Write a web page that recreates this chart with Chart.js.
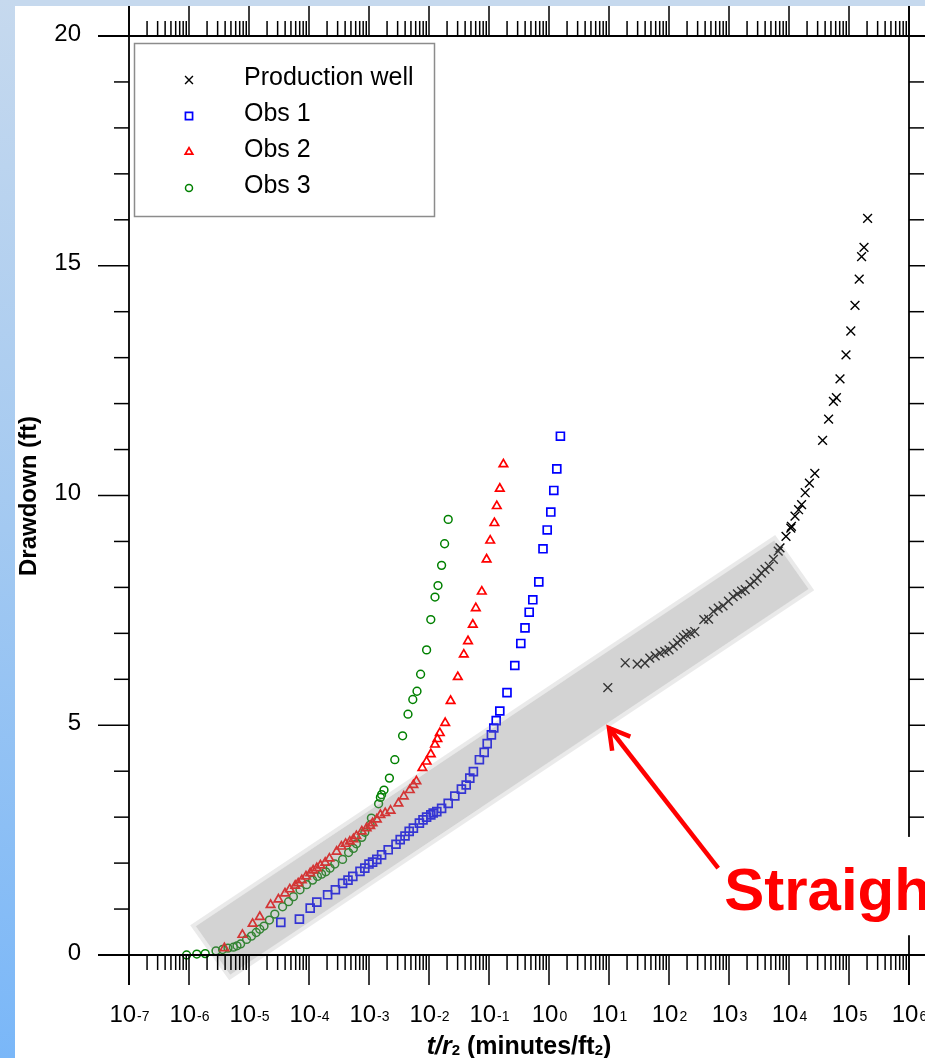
<!DOCTYPE html>
<html><head><meta charset="utf-8">
<script src="https://cdn.jsdelivr.net/npm/chart.js@4/dist/chart.umd.min.js"></script>
<style>html,body{margin:0;padding:0;overflow:hidden;background:#fff}canvas{display:block}</style>
</head><body>
<canvas id="c" width="925" height="1058"></canvas>
<script>
// ---- data (x given as log10 of t/r², y = drawdown ft) ----
const seriesNames = ['Production well', 'Obs 1', 'Obs 2', 'Obs 3'];

const prodLogT = [0.98,1.27,1.47,1.60,1.68,1.77,1.85,1.93,2.00,2.07,2.14,2.19,2.24,2.29,2.36,2.43,2.58,2.66,2.74,2.82,2.90,2.99,3.07,3.14,3.21,3.27,3.35,3.42,3.47,3.54,3.60,3.67,3.74,3.82,3.85,3.95,4.03,4.04,4.10,4.16,4.21,4.27,4.34,4.43,4.56,4.66,4.74,4.79,4.85,4.95,5.03,5.10,5.17,5.21,5.25,5.31];
const prodS    = [5.82,6.36,6.33,6.35,6.46,6.51,6.57,6.61,6.64,6.72,6.79,6.86,6.92,6.97,7.00,7.04,7.30,7.31,7.48,7.55,7.60,7.70,7.80,7.86,7.92,7.95,8.06,8.13,8.20,8.31,8.39,8.46,8.61,8.79,8.86,9.11,9.29,9.33,9.55,9.69,9.80,10.06,10.27,10.48,11.20,11.66,12.05,12.13,12.54,13.06,13.58,14.14,14.71,15.20,15.40,16.03];

const obs1LogT = [-4.47,-4.16,-3.98,-3.87,-3.69,-3.56,-3.44,-3.35,-3.27,-3.15,-3.07,-3.00,-2.94,-2.87,-2.79,-2.68,-2.55,-2.48,-2.40,-2.33,-2.26,-2.16,-2.10,-2.04,-1.97,-1.93,-1.87,-1.79,-1.68,-1.57,-1.46,-1.38,-1.32,-1.26,-1.16,-1.08,-1.03,-0.96,-0.92,-0.88,-0.82,-0.70,-0.57,-0.47,-0.40,-0.33,-0.27,-0.17,-0.10,-0.03,0.03,0.08,0.13,0.19];
const obs1S    = [0.71,0.78,1.02,1.15,1.31,1.42,1.56,1.63,1.71,1.82,1.89,1.98,2.02,2.08,2.18,2.29,2.41,2.51,2.59,2.69,2.76,2.87,2.94,3.00,3.05,3.09,3.12,3.19,3.30,3.46,3.61,3.70,3.85,3.99,4.25,4.41,4.60,4.79,4.94,5.10,5.31,5.71,6.30,6.78,7.12,7.46,7.73,8.12,8.84,9.25,9.64,10.11,10.58,11.29];

const obs2LogT = [-5.41,-5.11,-4.94,-4.82,-4.64,-4.51,-4.40,-4.32,-4.23,-4.18,-4.12,-4.05,-3.98,-3.93,-3.87,-3.81,-3.73,-3.66,-3.54,-3.46,-3.39,-3.32,-3.26,-3.21,-3.12,-3.04,-2.98,-2.94,-2.87,-2.81,-2.73,-2.64,-2.51,-2.42,-2.32,-2.26,-2.21,-2.11,-2.04,-1.97,-1.90,-1.86,-1.82,-1.73,-1.64,-1.52,-1.42,-1.35,-1.27,-1.22,-1.12,-1.04,-0.98,-0.91,-0.87,-0.82,-0.76];
const obs2S    = [0.15,0.44,0.68,0.83,1.09,1.21,1.34,1.43,1.51,1.56,1.63,1.71,1.78,1.84,1.89,1.95,2.01,2.10,2.25,2.36,2.42,2.47,2.52,2.59,2.69,2.76,2.81,2.87,2.95,3.05,3.09,3.14,3.30,3.45,3.59,3.70,3.78,4.07,4.21,4.37,4.58,4.70,4.83,5.05,5.53,6.05,6.54,6.83,7.19,7.55,7.91,8.61,9.02,9.40,9.77,10.15,10.68];

const obs3LogT = [-6.04,-5.87,-5.73,-5.55,-5.44,-5.35,-5.26,-5.20,-5.14,-5.04,-4.96,-4.88,-4.82,-4.75,-4.66,-4.57,-4.44,-4.34,-4.26,-4.15,-4.04,-3.94,-3.86,-3.79,-3.72,-3.65,-3.57,-3.44,-3.34,-3.26,-3.21,-3.12,-3.07,-2.98,-2.96,-2.84,-2.81,-2.79,-2.75,-2.66,-2.57,-2.44,-2.35,-2.27,-2.20,-2.14,-2.04,-1.97,-1.90,-1.85,-1.79,-1.74,-1.68];
const obs3S    = [0.00,0.02,0.03,0.09,0.12,0.15,0.17,0.20,0.24,0.34,0.41,0.49,0.56,0.63,0.76,0.89,1.05,1.16,1.27,1.42,1.53,1.63,1.71,1.76,1.81,1.89,1.98,2.08,2.23,2.32,2.42,2.56,2.67,2.83,2.98,3.29,3.43,3.49,3.59,3.85,4.25,4.77,5.24,5.56,5.74,6.11,6.64,7.30,7.79,8.04,8.48,8.95,9.48];

const xTickExponents = [-7,-6,-5,-4,-3,-2,-1,0,1,2,3,4,5,6];
const yTickLabels = [0, 5, 10, 15, 20];
const yMinorTicks = [0,1,2,3,4,5,6,7,8,9,10,11,12,13,14,15,16,17,18,19,20];

const yTitle = 'Drawdown (ft)';
const annotationText = 'Straight';

// ---- styling / annotation geometry (data space) ----
const FONT = '"Liberation Sans", Arial, sans-serif';
const band = [[-5.98,0.65],[3.77,9.14],[4.42,7.94],[-5.33,-0.55]]; // [log10 x, y]
const arrowTail = [2.82, 1.89], arrowTip = [1.0, 4.94];
const labelAnchor = [2.92, 0.98];
const labelBox = [2.78, 2.57, 0.43]; // left log x, top y, bottom y

const toPts = (lx, ly) => lx.slice(0, Math.min(lx.length, ly.length)).map((v, i) => ({x: Math.pow(10, v), y: ly[i]}));

const styles = [
  {pointStyle:'crossRot', radius:6.2, borderWidth:1.4, color:'#000000'},
  {pointStyle:'rect', radius:5.6, borderWidth:1.7, color:'#0000ff'},
  {pointStyle:'triangle', radius:4.9, borderWidth:1.7, color:'#ff0000'},
  {pointStyle:'circle', radius:3.9, borderWidth:1.5, color:'#008000'}
];
const seriesData = [toPts(prodLogT, prodS), toPts(obs1LogT, obs1S), toPts(obs2LogT, obs2S), toPts(obs3LogT, obs3S)];

const datasets = seriesNames.map((n, i) => ({
  label: n, data: seriesData[i], showLine: false, clip: false,
  pointStyle: styles[i].pointStyle, pointRadius: styles[i].radius, pointHoverRadius: styles[i].radius,
  pointBorderWidth: styles[i].borderWidth, borderColor: styles[i].color, backgroundColor: 'rgba(0,0,0,0)',
  pointBackgroundColor: 'rgba(0,0,0,0)', pointBorderColor: styles[i].color
}));

function line(ctx, x1, y1, x2, y2){ ctx.beginPath(); ctx.moveTo(x1, y1); ctx.lineTo(x2, y2); ctx.stroke(); }

const deco = {
  id: 'deco',
  beforeDraw(chart){
    const ctx = chart.ctx, W = chart.width, H = chart.height;
    ctx.save();
    ctx.fillStyle = '#ffffff'; ctx.fillRect(0, 0, W, H);
    ctx.fillStyle = '#c6d9ee'; ctx.fillRect(0, 0, W, 6);
    const g = ctx.createLinearGradient(0, 0, 0, H);
    g.addColorStop(0, '#c6d9ee'); g.addColorStop(0.5, '#a3c9f1'); g.addColorStop(1, '#7ab7f8');
    ctx.fillStyle = g; ctx.fillRect(0, 0, 15, H);
    ctx.restore();
  },
  afterDatasetsDraw(chart){
    const ctx = chart.ctx, xs = chart.scales.x, ys = chart.scales.y;
    const px = lv => xs.getPixelForValue(Math.pow(10, lv));
    const py = v => ys.getPixelForValue(v);
    const L = xs.left, R = xs.right, T = ys.top, B = ys.bottom;
    ctx.save();

    // gray band over the straight-line portion
    const P = band.map(c => [px(c[0]), py(c[1])]);
    const norm = (a, b) => { const dx = b[0]-a[0], dy = b[1]-a[1], l = Math.hypot(dx, dy); return [dx/l, dy/l]; };
    const u = norm(P[0], P[1]), v = norm(P[0], P[3]), d = 4;
    const I = [
      [P[0][0]+d*u[0]+d*v[0], P[0][1]+d*u[1]+d*v[1]],
      [P[1][0]-d*u[0]+d*v[0], P[1][1]-d*u[1]+d*v[1]],
      [P[2][0]-d*u[0]-d*v[0], P[2][1]-d*u[1]-d*v[1]],
      [P[3][0]+d*u[0]-d*v[0], P[3][1]+d*u[1]-d*v[1]]
    ];
    ctx.beginPath();
    P.forEach((p, i) => i ? ctx.lineTo(p[0], p[1]) : ctx.moveTo(p[0], p[1])); ctx.closePath();
    [I[0], I[3], I[2], I[1]].forEach((p, i) => i ? ctx.lineTo(p[0], p[1]) : ctx.moveTo(p[0], p[1])); ctx.closePath();
    ctx.fillStyle = 'rgba(150,150,150,0.2)'; ctx.fill('evenodd');
    ctx.beginPath();
    I.forEach((p, i) => i ? ctx.lineTo(p[0], p[1]) : ctx.moveTo(p[0], p[1])); ctx.closePath();
    ctx.fillStyle = 'rgba(140,140,140,0.38)'; ctx.fill();

    // frame and ticks
    ctx.strokeStyle = '#000'; ctx.lineWidth = 1.8; ctx.lineCap = 'butt';
    line(ctx, L-31, T, chart.width, T);
    line(ctx, L-31, B, chart.width, B);
    line(ctx, L, 6, L, B+30);
    line(ctx, R, 6, R, B+30);
    ctx.lineWidth = 1.5;
    xTickExponents.forEach((e, k) => {
      const x = px(e);
      line(ctx, x, B, x, B+30); line(ctx, x, T, x, T-30);
      if (k < xTickExponents.length - 1) {
        for (let m = 2; m <= 9; m++) {
          const xm = xs.getPixelForValue(m * Math.pow(10, e));
          line(ctx, xm, B, xm, B+15); line(ctx, xm, T, xm, T-15);
        }
      }
    });
    yMinorTicks.forEach(v => {
      const y = py(v), len = yTickLabels.includes(v) ? 31 : 15;
      line(ctx, L-len, y, L, y); line(ctx, R, y, R+len, y);
    });

    // x tick labels 10 with exponent
    ctx.fillStyle = '#000'; ctx.textBaseline = 'alphabetic'; ctx.textAlign = 'left';
    xTickExponents.forEach(e => {
      const x = px(e);
      ctx.font = '24px ' + FONT; const w1 = ctx.measureText('10').width;
      ctx.font = '14px ' + FONT; const es = String(e); const w2 = ctx.measureText(es).width;
      const x0 = x - (w1 + w2) / 2;
      ctx.font = '24px ' + FONT; ctx.fillText('10', x0, 1022);
      ctx.font = '14px ' + FONT; ctx.fillText(es, x0 + w1 + 1, 1021);
    });
    // y tick labels
    ctx.font = '24px ' + FONT; ctx.textAlign = 'right'; ctx.textBaseline = 'middle';
    yTickLabels.forEach(v => ctx.fillText(String(v), 81, py(v) - 2));

    // x axis title: t/r2 (minutes/ft2)
    const parts = [
      {t:'t/r', f:'italic bold 25px '+FONT, dy:0},
      {t:'2', f:'bold 15px '+FONT, dy:1},
      {t:' (minutes/ft', f:'bold 25px '+FONT, dy:0},
      {t:'2', f:'bold 15px '+FONT, dy:1},
      {t:')', f:'bold 25px '+FONT, dy:0}
    ];
    ctx.textAlign = 'left'; ctx.textBaseline = 'alphabetic';
    let tw = 0; parts.forEach(p => { ctx.font = p.f; p.w = ctx.measureText(p.t).width; tw += p.w; });
    let cx = 519 - tw / 2;
    parts.forEach(p => { ctx.font = p.f; ctx.fillText(p.t, cx, 1054 + p.dy); cx += p.w; });

    // y axis title
    ctx.save(); ctx.translate(36, 496); ctx.rotate(-Math.PI/2);
    ctx.font = 'bold 24px ' + FONT; ctx.textAlign = 'center'; ctx.textBaseline = 'alphabetic';
    ctx.fillText(yTitle, 0, 0); ctx.restore();

    // legend
    ctx.fillStyle = '#fff'; ctx.fillRect(134, 43, 301, 174);
    ctx.strokeStyle = '#8c8c8c'; ctx.lineWidth = 1.5; ctx.strokeRect(134.5, 43.5, 300, 173);
    const rows = [78, 114, 150, 186];
    seriesNames.forEach((n, i) => {
      ctx.save();
      ctx.strokeStyle = styles[i].color; ctx.fillStyle = 'rgba(0,0,0,0)'; ctx.lineWidth = styles[i].borderWidth;
      Chart.helpers.drawPoint(ctx, {pointStyle: styles[i].pointStyle, radius: styles[i].radius * 0.9, rotation: 0, borderWidth: styles[i].borderWidth}, 189, rows[i] + 2);
      ctx.restore();
      ctx.fillStyle = '#000'; ctx.font = '25px ' + FONT; ctx.textAlign = 'left'; ctx.textBaseline = 'middle';
      ctx.fillText(n, 244, rows[i]);
    });

    // white label box, arrow and text
    const bx = px(labelBox[0]), by1 = py(labelBox[1]), by2 = py(labelBox[2]);
    ctx.fillStyle = '#fff'; ctx.fillRect(bx, by1, chart.width - bx, by2 - by1);
    const ax1 = px(arrowTail[0]), ay1 = py(arrowTail[1]), ax2 = px(arrowTip[0]), ay2 = py(arrowTip[1]);
    ctx.strokeStyle = '#ff0000'; ctx.lineWidth = 4.5; ctx.lineCap = 'butt'; ctx.lineJoin = 'miter';
    line(ctx, ax1, ay1, ax2, ay2);
    const ang = Math.atan2(ay1 - ay2, ax1 - ax2), hl = 23, ha = Math.PI / 6;
    ctx.beginPath();
    ctx.moveTo(ax2 + hl*Math.cos(ang + ha), ay2 + hl*Math.sin(ang + ha));
    ctx.lineTo(ax2, ay2);
    ctx.lineTo(ax2 + hl*Math.cos(ang - ha), ay2 + hl*Math.sin(ang - ha));
    ctx.stroke();
    ctx.fillStyle = '#ff0000'; ctx.font = 'bold 60px ' + FONT; ctx.textAlign = 'left'; ctx.textBaseline = 'alphabetic';
    ctx.fillText(annotationText, px(labelAnchor[0]), py(labelAnchor[1]));
    ctx.restore();
  }
};

new Chart(document.getElementById('c'), {
  type: 'scatter',
  data: { datasets },
  options: {
    responsive: false, animation: false, devicePixelRatio: 1,
    layout: { padding: { left: 129, right: 16, top: 36, bottom: 103 } },
    scales: {
      x: { type: 'logarithmic', min: 1e-7, max: 1e6, display: false },
      y: { type: 'linear', min: 0, max: 20, display: false }
    },
    plugins: { legend: { display: false }, tooltip: { enabled: false } },
    events: []
  },
  plugins: [deco]
});
</script>
</body></html>
